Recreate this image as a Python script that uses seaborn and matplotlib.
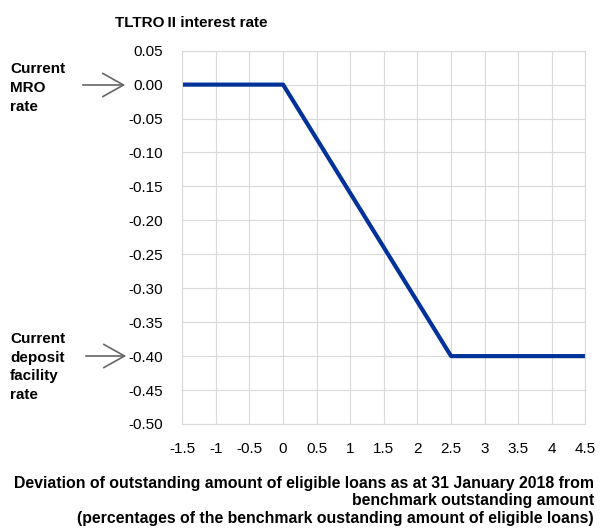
import matplotlib
matplotlib.use("Agg")
import matplotlib.pyplot as plt
import pandas as pd
import seaborn as sns

# TLTRO II rate schedule
deviation = [-1.5, 0.0, 2.5, 4.5]
rate = [0.00, 0.00, -0.40, -0.40]

x_ticks = [-1.5, -1, -0.5, 0, 0.5, 1, 1.5, 2, 2.5, 3, 3.5, 4, 4.5]
x_tick_labels = ["-1.5", "-1", "-0.5", "0", "0.5", "1", "1.5", "2", "2.5", "3", "3.5", "4", "4.5"]
y_ticks = [0.05, 0.00, -0.05, -0.10, -0.15, -0.20, -0.25, -0.30, -0.35, -0.40, -0.45, -0.50]

BLUE = "#003299"
GRID = "#d9d9d9"

sns.set_theme(style="white")
plt.rcParams["font.family"] = ["Liberation Sans", "DejaVu Sans"]
plt.rcParams["text.color"] = "black"

df = pd.DataFrame({"deviation": deviation, "rate": rate})

fig = plt.figure(figsize=(6.01, 5.29), dpi=100)
ax = fig.add_axes([0.3033, 0.1985, 0.6709, 0.7057])

sns.lineplot(data=df, x="deviation", y="rate", color=BLUE, linewidth=3, ax=ax)

ax.set_xlim(-1.5, 4.5)
ax.set_ylim(-0.50, 0.05)
ax.set_xticks(x_ticks)
ax.set_xticklabels(x_tick_labels)
ax.set_yticks(y_ticks)
ax.set_yticklabels([f"{v:.2f}" for v in y_ticks])
ax.tick_params(axis="x", labelsize=11, length=0, pad=13, colors="black")
ax.tick_params(axis="y", labelsize=11, length=0, pad=14, colors="black")
ax.grid(True, color=GRID, linewidth=0.8)
for s in ax.spines.values():
    s.set_color(GRID)
    s.set_linewidth(0.8)
ax.set_xlabel("")
ax.set_ylabel("")

fig.text(115 / 601, 1 - 23 / 529, "TLTRO\u2009II interest rate", fontsize=11,
         fontweight="bold", ha="left", va="center")

fig.text(594 / 601, 1 - 501 / 529,
         "Deviation of outstanding amount of eligible loans as at 31 January 2018 from\n"
         "benchmark outstanding amount\n"
         "(percentages of the benchmark oustanding amount of eligible loans)",
         fontsize=11.4, fontweight="bold", ha="right", va="center", linespacing=1.2)

fig.text(10 / 601, 1 - 88 / 529, "Current\nMRO\nrate", fontsize=11,
         fontweight="bold", ha="left", va="center", linespacing=1.45)
fig.text(10 / 601, 1 - 367 / 529, "Current\ndeposit\nfacility\nrate", fontsize=11,
         fontweight="bold", ha="left", va="center", linespacing=1.4)

arrow = dict(arrowstyle="->,head_length=1.25,head_width=0.7", color="#666666", lw=1.2)
ax.annotate("", xy=(128 / 601, 1 - 85 / 529), xytext=(80 / 601, 1 - 85 / 529),
            xycoords="figure fraction", textcoords="figure fraction", arrowprops=arrow,
            annotation_clip=False)
ax.annotate("", xy=(129 / 601, 1 - 356 / 529), xytext=(83 / 601, 1 - 356 / 529),
            xycoords="figure fraction", textcoords="figure fraction", arrowprops=arrow,
            annotation_clip=False)

fig.savefig("out.png", dpi=100)
